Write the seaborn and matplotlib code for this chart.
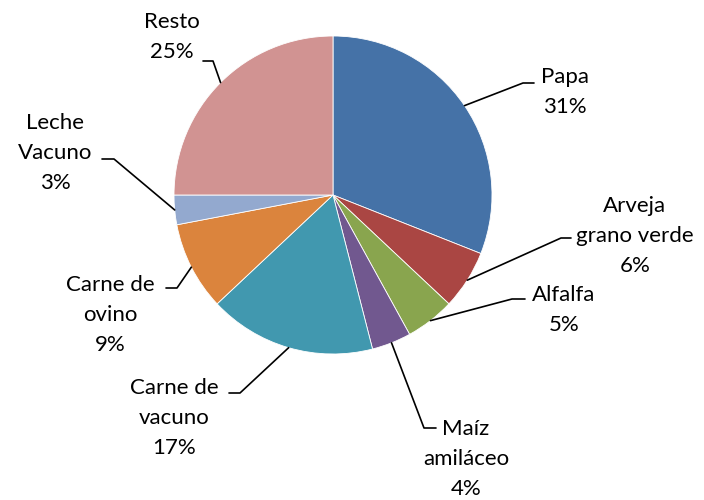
import numpy as np
import matplotlib
matplotlib.use("Agg")
import matplotlib.pyplot as plt
import seaborn as sns

# data
categories = ["Papa", "Arveja\ngrano verde", "Alfalfa", "Maíz\namiláceo",
              "Carne de\nvacuno", "Carne de\novino", "Leche\nVacuno", "Resto"]
shares = [31, 6, 5, 4, 17, 9, 3, 25]
colors = ["#4572A7", "#AA4643", "#89A54E", "#71588F",
          "#4198AF", "#DB843D", "#93A9CF", "#D19392"]

# label layout in image pixels: text centre, leader elbow, leader end
text_pos = [(565, 92), (635, 236), (564, 310), (466, 459),
            (174, 418), (110, 315), (55, 153), (172, 37)]
elbows = [(523, 83), (561, 238), (512, 299), (424, 428),
          (240, 393), (177, 288), (114, 159), (213, 61)]
ends = [(534, 83), (571, 238), (525, 299), (436, 428),
        (229, 393), (166, 288), (102, 159), (203, 61)]

CX, CY, R = 333, 195, 159


def px(p):
    return (p[0] - CX) / R, (CY - p[1]) / R


sns.set_theme(style="white")
plt.rcParams['font.family'] = ['Lato', 'DejaVu Sans']

fig = plt.figure(figsize=(7.04, 5), dpi=100)
ax = fig.add_axes([0, 0, 1, 1])
wedges, _ = ax.pie(shares, colors=sns.color_palette(colors), startangle=90,
                   counterclock=False, radius=1,
                   wedgeprops=dict(edgecolor="white", linewidth=0.6))
ax.set_xlim(-CX / R, (704 - CX) / R)
ax.set_ylim(-(500 - CY) / R, CY / R)
ax.set_aspect("equal")
ax.axis("off")

for w, name, val, tp, el, en in zip(wedges, categories, shares, text_pos, elbows, ends):
    mid = np.deg2rad((w.theta1 + w.theta2) / 2)
    start = (np.cos(mid), np.sin(mid))
    e1, e2 = px(el), px(en)
    ax.plot([start[0], e1[0], e2[0]], [start[1], e1[1], e2[1]], color="black", lw=1.2)
    tx, ty = px(tp)
    ax.text(tx, ty, f"{name}\n{val}%", ha="center", va="center",
            fontsize=16, linespacing=1.6, color="black")

fig.savefig("out.png", dpi=100)
